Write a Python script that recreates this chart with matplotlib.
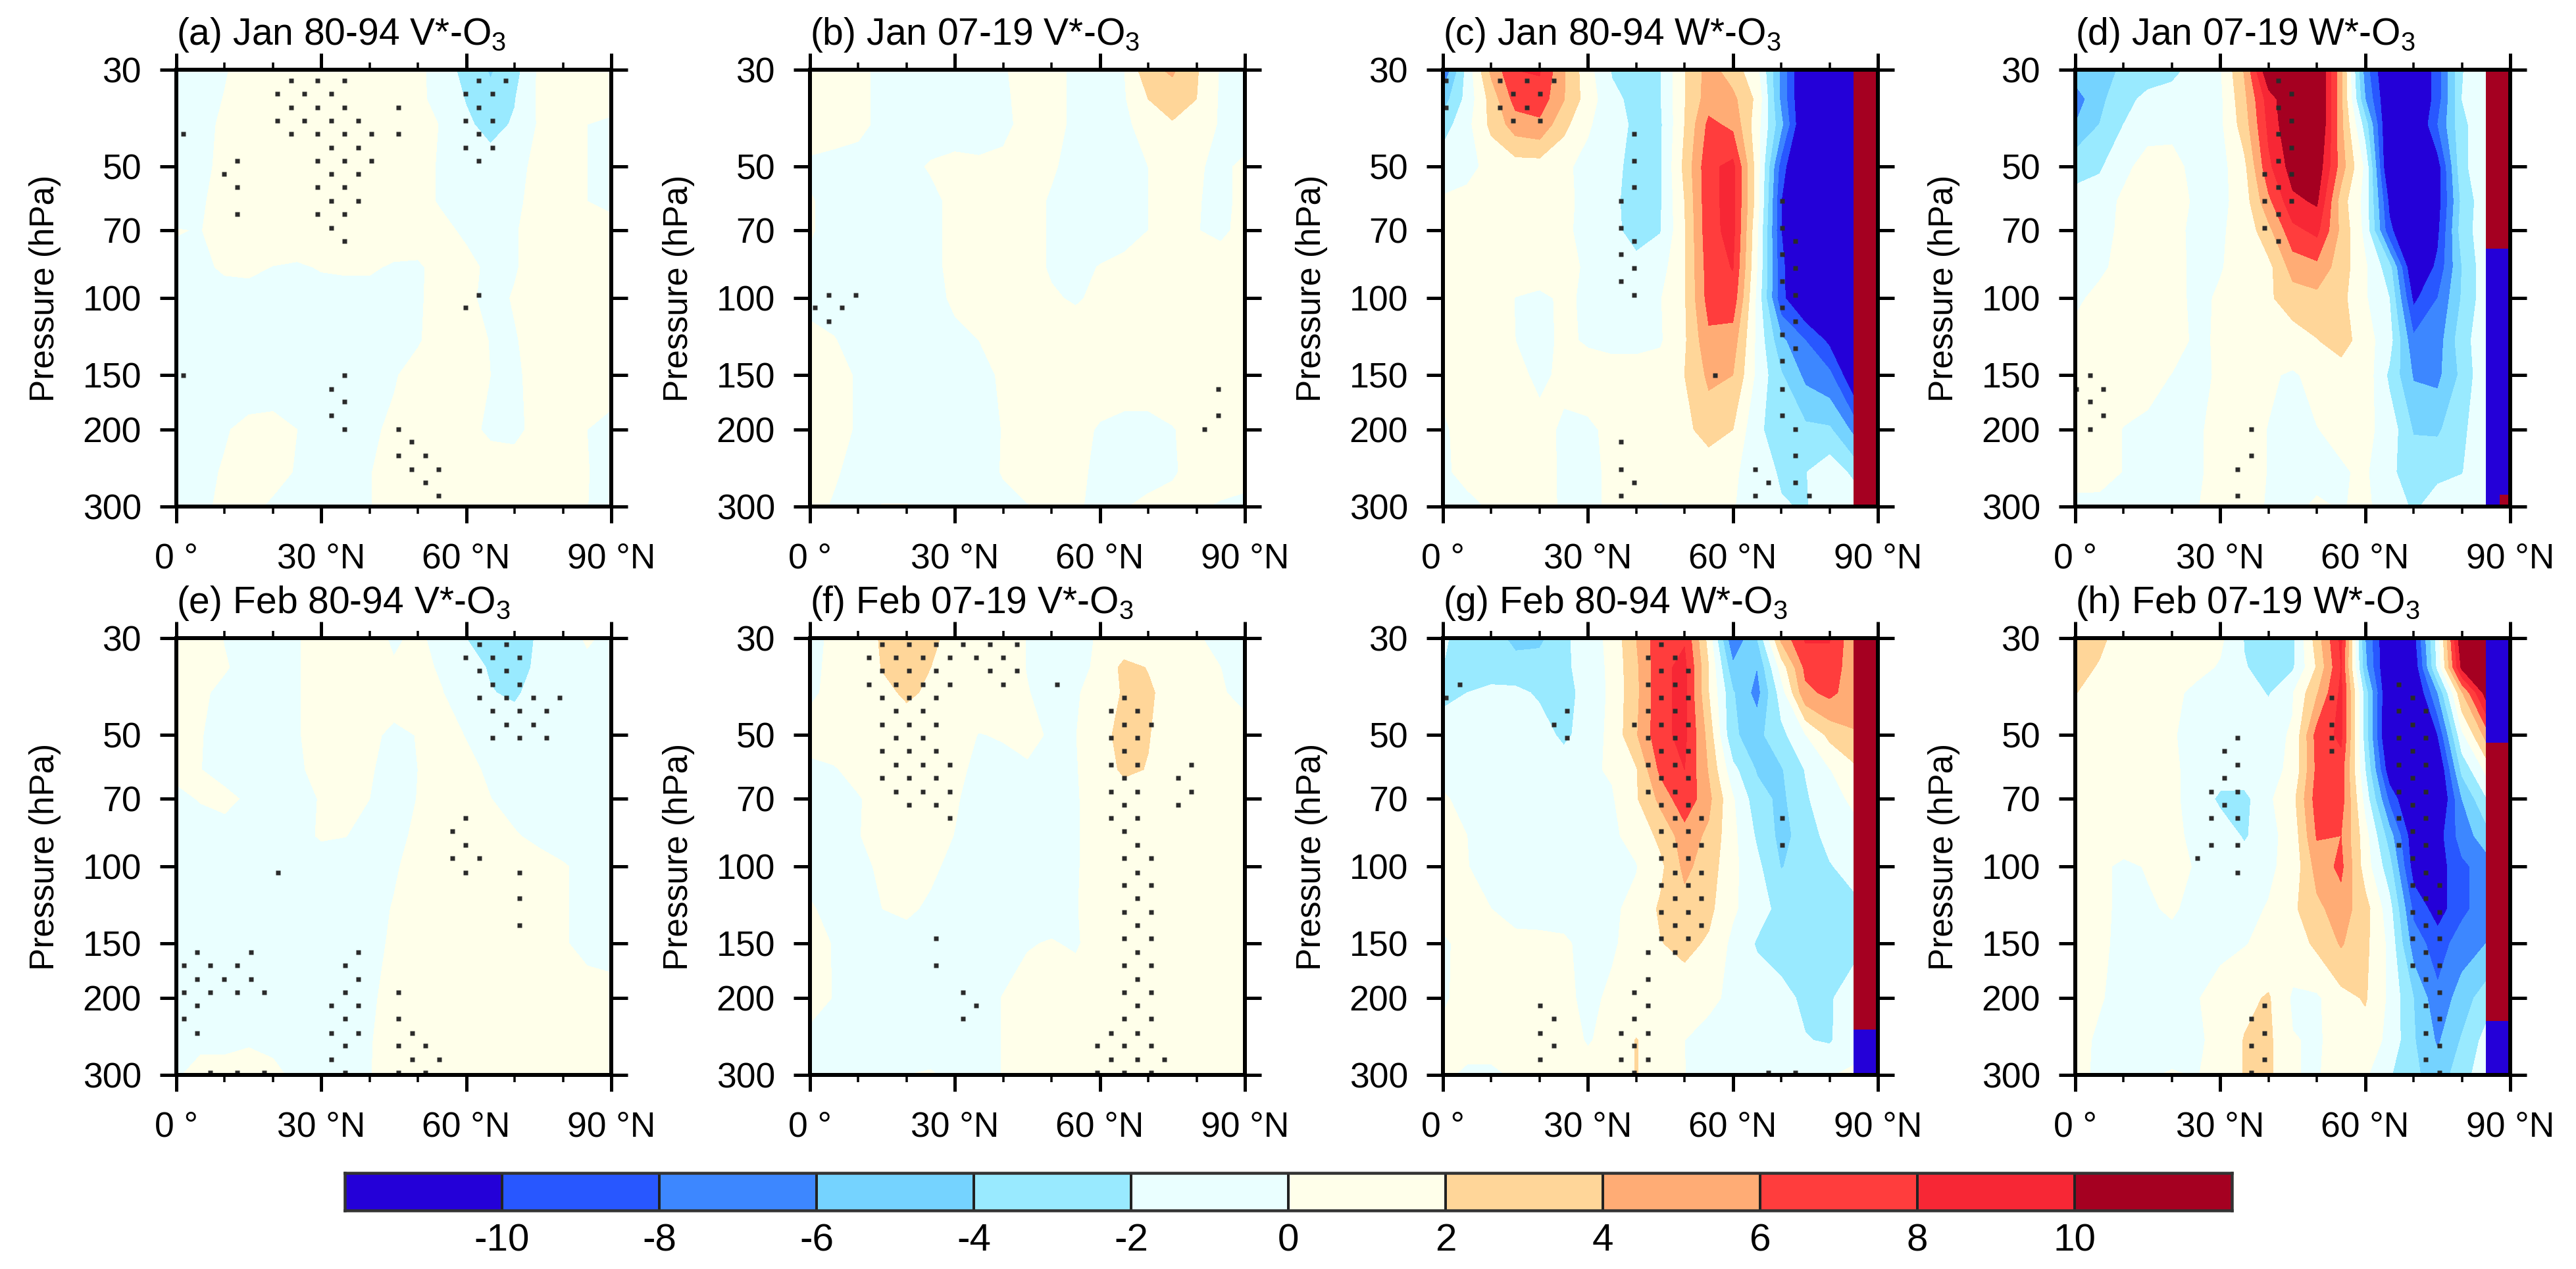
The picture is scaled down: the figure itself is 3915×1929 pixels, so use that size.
import numpy as np
import matplotlib
matplotlib.use("Agg")
import matplotlib.pyplot as plt
from matplotlib.colors import ListedColormap, BoundaryNorm

plt.rcParams['font.family'] = ['Liberation Sans', 'DejaVu Sans']
plt.rcParams['mathtext.fontset'] = 'custom'
plt.rcParams['mathtext.rm'] = 'Liberation Sans'
plt.rcParams['mathtext.default'] = 'regular'

LEVELS = [30, 35, 40, 50, 60, 70, 85, 100, 125, 150, 200, 250, 300]
LAT_V = list(range(0, 95, 5))
LAT_W = list(range(0, 90, 5))
CLEV = [-12, -10, -8, -6, -4, -2, 0, 2, 4, 6, 8, 10, 12]
COLORS = ['#2400D8', '#2857FF', '#3D87FF', '#75D3FF', '#99EAFF', '#EAFFFF',
          '#FFFFEA', '#FFD699', '#FFAC75', '#FF3D3D', '#F72735', '#A50021']
YTICKS = [30, 50, 70, 100, 150, 200, 300]
XTICKS = [0, 30, 60, 90]
XTICKLABELS = ['0 °', '30 °N', '60 °N', '90 °N']
TITLES = ['(a) Jan 80-94 V*-O$_3$', '(b) Jan 07-19 V*-O$_3$', '(c) Jan 80-94 W*-O$_3$', '(d) Jan 07-19 W*-O$_3$',
          '(e) Feb 80-94 V*-O$_3$', '(f) Feb 07-19 V*-O$_3$', '(g) Feb 80-94 W*-O$_3$', '(h) Feb 07-19 W*-O$_3$']

# ---- field values (rows follow LEVELS, columns follow LAT_V / LAT_W) ----
A = [
 [-1,-1,-.2,1,1,1,1,1,1,1,.5,-1,-2.7,-4.2,-2.8,.3,1,1,1],
 [-1,-1,.1,1,1,1,1,1,1,1,.5,-.9,-2.1,-3.5,-2.1,.3,1,1,1],
 [-1,-.7,.4,1,1,1,1,1,1,1,.5,-.1,-1.7,-2.6,-1.8,.2,.8,0,-.5],
 [-1,-.5,.5,1,1.2,1.2,1.2,1.2,1.2,1.2,.5,-.2,-1,-1.2,-.6,.5,.8,0,-.5],
 [-.8,-.2,.6,1,1.3,1.3,1.3,1.3,1.3,1.2,.5,-.2,-.8,-.8,-.3,.5,.8,0,-.4],
 [.05,-.05,.6,1,1,1,1,1,1,1,.7,.4,-.3,-.6,-.1,.5,.8,.8,.6],
 [-.3,-.3,.2,.3,-.05,-.2,.1,.2,.2,-.2,-.2,.5,.5,-.4,-.1,.5,.8,.8,.6],
 [-.1,-.5,-.6,-.6,-.6,-.6,-.6,-.6,-.6,-.5,-.1,.3,.3,-.4,.1,.6,.8,.8,.6],
 [-.5,-.7,-.7,-.7,-.7,-.7,-.7,-.7,-.7,-.5,-.1,.5,.5,-.05,-.1,.5,.8,.8,.6],
 [-.5,-.7,-.7,-.7,-.7,-.7,-.7,-.7,-.5,-.1,.4,.6,.5,0,-.3,.6,.8,.8,.6],
 [-.6,-.4,-.1,.3,.4,0,-.4,-.6,-.2,.2,.5,.6,.3,-.2,-.3,.4,.6,0,-.4],
 [-.6,-.3,.1,.4,.4,-.1,-.4,-.4,-.05,.4,.6,.6,.6,.6,.6,.6,.6,.05,-.5],
 [-.6,-.3,.3,.3,-.2,-.5,-.5,-.3,-.05,.4,.6,.6,.6,.6,.6,.6,.6,.02,-.5],
]
B = [
 [.5,.5,.3,-.3,-.5,-.5,-.5,-.4,-.1,.4,.3,-.2,-.5,-.05,3.5,4.3,2.2,-.2,-.5],
 [.5,.5,.3,-.3,-.5,-.5,-.5,-.5,-.2,.4,.3,-.2,-.5,-.2,2,3,2,-.3,-.5],
 [.5,.5,.3,-.3,-.5,-.5,-.5,-.5,-.3,.4,.3,-.2,-.5,-.3,.6,1.8,1,-.2,-.5],
 [-.2,-.4,-.5,-.5,-.3,.1,.3,.2,.3,.4,.1,-.3,-.5,-.5,0,.4,.1,-.2,.2],
 [.1,-.4,-.5,-.5,-.5,-.3,.3,.4,.4,.3,-.1,-.5,-.5,-.4,0,.4,.05,-.2,.2],
 [.1,-.4,-.5,-.5,-.5,-.3,.3,.4,.4,.3,-.1,-.5,-.5,-.4,0,.4,.03,-.2,.3],
 [-.2,-.4,-.5,-.5,-.5,-.3,.3,.4,.4,.3,-.1,-.3,.05,.3,.4,.4,.5,.5,.5],
 [-.3,-.4,-.5,-.5,-.5,-.4,.2,.4,.4,.4,.1,-.1,.2,.4,.5,.5,.5,.5,.5],
 [.3,.05,-.4,-.5,-.5,-.5,-.3,0,.3,.5,.5,.5,.5,.5,.5,.5,.5,.5,.5],
 [.4,.3,-.1,-.4,-.5,-.5,-.4,-.2,.1,.4,.5,.5,.5,.5,.5,.5,.5,.5,.5],
 [.4,.3,-.1,-.4,-.5,-.5,-.4,-.3,.03,.4,.4,.3,-.1,-.3,-.3,-.05,.3,.4,.4],
 [.4,.1,-.3,-.5,-.5,-.5,-.4,-.3,.05,.4,.4,.2,-.2,-.3,-.3,-.1,.3,.4,.4],
 [.3,-.1,-.4,.05,.05,-.3,-.5,-.4,-.2,-.05,.2,.1,-.2,-.05,.2,.3,.1,-.1,-.3],
]
C = [
 [-8,-1.3,4.5,8,8.2,4.2,.7,-2.2,-2.6,-2.1,1.9,4.8,3,.5,-6.5,-13,-13,-13],
 [-5,-1.3,2.8,6.8,7.2,4.1,1,-1.5,-2.6,-2.1,1.9,5,4.5,1.5,-6.5,-13,-13,-13],
 [-3,-.6,2.5,5,5.5,2.6,.2,-1,-2.5,-2.3,2,6.5,5.5,.8,-5.5,-13,-13,-13],
 [-.8,-.5,.5,1,1,.3,-.5,-1.6,-2.5,-2.2,2.5,7.5,8.6,1,-9,-14,-14,-14],
 [.2,.5,1,1,1,.4,-.5,-1.6,-2.8,-2.2,2,7.5,8.6,1,-10,-14,-14,-14],
 [.2,.6,1,1,1,.3,-.5,-1.6,-2.6,-2.1,1.8,7.4,8.6,.3,-10,-14,-14,-14],
 [.2,.6,1,1,1,.6,-.3,-.6,-1.5,-.8,1.8,7,8.1,0,-9.5,-13,-13,-13],
 [.3,.7,.8,-.05,-.4,.3,-.3,-.6,-.6,-.1,1.8,6.8,7.2,-.5,-9.5,-12.5,-13,-13],
 [.4,.8,.8,0,-.5,.3,-.2,-.5,-.5,-.2,1.7,5.5,5,-.5,-5.5,-8,-10.5,-13],
 [.3,.8,.8,.5,-.4,.4,.8,.8,.8,.8,2,4.4,4,-.5,-3.8,-6.5,-7.5,-12],
 [-.2,.5,.8,.8,.6,-.3,-.3,.4,.6,.8,1.5,2.8,2,-1.7,-2.8,-3.5,-3.7,-6.5],
 [-.3,.5,.8,.8,.7,-.3,-.4,.3,.6,.7,.7,.7,.3,-.9,-2.3,-2.1,-.7,-2.5],
 [-.5,-.5,.2,.6,.5,-.2,-.4,.3,.4,-.1,.4,.6,.2,-1.8,-1.8,-2.2,-.8,-.5],
]
D = [
 [-5,-5,-3.6,-2.8,-2.4,-1.5,-.2,4.2,12,12,13,4.5,-7,-13,-13,-9,-2.1,-.8],
 [-7,-4.6,-2.5,-1.6,-1.4,-1.4,-.4,3.5,9,12,13,4.5,-6,-12.5,-13,-9,-2,-.6],
 [-6,-4,-2,-.6,-.5,-1,-.4,3,8.5,12,13,4.5,-3,-13,-13,-8,-2.5,-.6],
 [-2.5,-2.3,-.4,.6,.6,-.6,-.7,1.5,7.5,11,11.5,5,-.5,-13,-13,-11,-2.5,-.6],
 [-1.5,-.8,.3,.8,.8,-.3,-.6,1,5.5,9.5,10.3,3,-.8,-10.5,-13,-11,-3.5,-.6],
 [-.8,-.5,.3,.8,.6,-.5,-.2,.6,3.4,7.4,8.5,3.5,-.6,-9.5,-13,-10.5,-3,-.8],
 [-.8,-.3,.5,.8,.6,-.4,-.1,.6,1.4,4.8,5.4,3,.3,-3.2,-12.5,-9.5,-4,-.7],
 [-.3,.4,.7,.7,.6,-.4,.2,.6,1.7,3,3.4,2.6,.2,-2,-10.5,-8,-3.8,-.8],
 [.5,.7,.7,.7,.7,-.3,.2,.6,.8,1,1.9,3,.8,-1.2,-7.5,-7,-2.8,-.7],
 [.5,.6,.6,.6,-.05,-.4,.2,.5,.2,-.2,.5,.8,1.2,-2.4,-6.2,-6.5,-3.5,-.3],
 [.4,.5,-.05,-.4,-.5,-.2,.4,.5,-.05,-.4,-.05,.4,.5,-.8,-4.2,-4.3,-2.5,-.4],
 [.4,.5,-.05,-.4,-.5,-.2,.4,.5,-.05,-.4,-.4,-.2,.3,-1.8,-2.5,-2.4,-2.1,-.3],
 [-.3,-.4,-.5,-.5,-.5,-.05,.3,.4,-.1,-.3,.2,-.1,.3,-.8,-2.3,-1.2,-.5,-.4],
]
E = [
 [.6,.6,-.05,-.4,-.5,-.1,.5,.6,.4,-.15,.2,-.4,-2,-2.6,-2.8,-1.8,-.6,.15,-.3],
 [.6,.6,.1,-.4,-.5,-.1,.5,.6,.5,.1,.4,-.2,-1.2,-2.2,-2.8,-1.6,-.6,-.3,-.3],
 [.6,.2,-.3,-.5,-.5,-.1,.5,.6,.6,.6,.6,.05,-.9,-1.9,-2.3,-1.2,-.6,-.4,-.4],
 [.4,.05,-.4,-.5,-.5,-.1,.5,.6,.3,-.3,.05,.4,-.05,-.7,-.9,-.9,-.7,-.5,-.5],
 [.2,.02,-.4,-.5,-.5,-.2,.4,.5,.1,-.4,0,.5,.3,-.2,-.6,-.7,-.7,-.6,-.6],
 [-.2,.05,.3,-.2,-.5,-.5,.1,.4,0,-.4,.03,.5,.5,.02,-.4,-.6,-.6,-.6,-.6],
 [-.3,-.4,-.5,-.5,-.5,-.3,.1,.02,-.3,-.3,.2,.5,.6,.5,.1,-.3,-.5,-.6,-.6],
 [-.4,-.5,-.5,-.5,-.5,-.5,-.5,-.5,-.5,-.1,.3,.5,.6,.6,.6,.5,.1,-.3,-.5],
 [-.4,-.5,-.5,-.5,-.5,-.5,-.5,-.5,-.3,.05,.4,.6,.6,.6,.6,.6,.1,-.3,-.5],
 [-.4,-.5,-.5,-.5,-.5,-.5,-.5,-.5,-.3,.15,.4,.6,.6,.6,.6,.6,.1,-.3,-.5],
 [-.4,-.5,-.5,-.5,-.5,-.5,-.5,-.3,-.1,.2,.5,.5,.5,.5,.5,.5,.5,.5,.5],
 [-.4,-.2,-.2,-.1,-.2,-.4,-.5,-.3,-.05,.3,.5,.5,.5,.5,.5,.5,.5,.5,.5],
 [-.1,.3,.3,.4,.2,-.2,-.5,-.4,-.03,.3,.5,.5,.5,.5,.5,.5,.5,.5,.5],
]
F = [
 [-.3,.2,.6,2.3,3,2.5,1.2,.8,.5,-.05,-.4,-.3,.1,.4,.5,.4,.1,-.3,-.4],
 [-.3,.3,.7,2.1,2.8,2,1,.8,.5,-.05,-.4,-.3,.2,2.6,1.9,.6,.3,0,-.3],
 [-.2,.3,.7,1.5,2.3,1.7,1,.8,.5,.05,-.4,-.1,.4,2.3,2.3,1.2,.5,.1,-.3],
 [.5,.6,.7,.8,.9,.8,.5,-.05,.1,.4,-.2,-.05,1.5,2.5,2.1,1,.8,.6,.4],
 [-.3,-.1,.4,.7,.9,.8,.2,-.2,-.4,-.2,-.1,-.1,.9,2.4,1.9,1,.8,.6,.4],
 [-.3,-.3,-.1,.5,.8,.7,.1,-.4,-.4,-.4,-.3,-.1,.5,.8,.8,.8,.7,.6,.4],
 [-.3,-.4,-.05,.4,.7,.4,-.03,-.4,-.4,-.4,-.3,-.1,.5,.8,.8,.8,.7,.6,.4],
 [-.3,-.4,-.3,.2,.5,.2,-.3,-.4,-.4,-.4,-.3,-.1,.5,.7,.7,.7,.7,.6,.4],
 [.1,-.3,-.4,0,.2,-.2,-.4,-.4,-.4,-.4,-.3,-.05,.4,.6,.6,.6,.6,.6,.4],
 [.3,-.05,-.4,-.5,-.5,-.5,-.5,-.5,-.3,-.05,.05,-.1,.4,.6,.6,.6,.6,.6,.4],
 [.4,-.05,-.4,-.5,-.5,-.5,-.5,-.3,.03,.3,.4,.5,.5,.5,.5,.5,.5,.5,.5],
 [-.3,-.4,-.4,-.5,-.5,-.5,-.5,-.3,.03,.3,.4,.5,.5,.5,.5,.5,.5,.5,.5],
 [-.3,-.4,-.4,-.4,0,.1,-.3,-.3,.03,.3,.4,.5,.5,.5,.5,.5,.5,.5,.5],
]
G = [
 [-1.8,-2.6,-3.2,-4.5,-4.5,-2.4,-1,.6,4,7.4,7.8,1.2,-8,-4,4.5,8.3,8.1,4.5],
 [-2,-2.6,-3,-3.3,-3,-2.4,-1.2,.5,3.6,7.5,8.5,2,-5.5,-6,.8,6.5,7.5,4.5],
 [-2.5,-2,-1.5,-1.5,-2.3,-2.5,-1.5,.5,3.5,7.5,8.5,2,-3.8,-6.8,-1,5.5,6.5,5],
 [-1,-.8,-.7,-.8,-1,-2.5,-1,.5,3.8,7.5,8.5,3.2,-3.8,-4.6,-2.6,-.1,2.5,3.8],
 [-.5,-.7,-.7,-.7,-.7,-.7,-.3,.2,1.8,6.5,8,3.8,-1.4,-4.2,-4.2,-1.9,-.1,1.5],
 [.2,-.5,-.6,-.6,-.6,-.6,-.6,-.2,1.8,4.5,7.5,4.5,.2,-3.2,-4.5,-2.3,-.6,.3],
 [.3,0,-.6,-.6,-.6,-.6,-.6,-.3,.6,2.5,5,3.6,.5,-2.3,-4.6,-3.2,-1.2,-.6],
 [.3,.05,-.6,-.6,-.6,-.6,-.6,-.5,-.1,1.5,4.5,3,.5,-1.5,-4.1,-3.2,-2.2,-1],
 [.4,.4,0,-.5,-.6,-.5,-.5,-.3,.5,2.3,3.2,2.5,.3,-1.2,-2.6,-2.8,-2.8,-2.8],
 [-.2,.4,.5,.4,.4,.2,-.4,-.2,.6,1.9,2.6,1.7,-.5,-2.2,-2.8,-2.8,-2.8,-2.8],
 [-.2,.5,.6,.6,.6,.4,-.4,.3,.5,.7,.7,.3,-.3,-.8,-1.4,-2.4,-2.3,-.6],
 [.4,.6,.6,.6,.6,.5,-.1,.4,2.1,.7,0,-.5,-.6,-.7,-.9,-1.9,-2.2,-.7],
 [.3,-.3,-.3,.2,.5,.5,.5,.6,2.1,.5,.02,-.5,-.5,-.5,-.5,-.5,-.1,.3],
]
H = [
 [3,2.5,1,.8,.8,.8,.4,-2.1,-3.5,-2.5,3,8.5,-6,-13,-11,-1,12,12],
 [2.8,1.8,.8,.8,.8,.6,-.2,-1.9,-2.6,-2.3,2.2,8,-5.5,-13,-12,-1.5,10.5,12],
 [2.1,.8,.8,.8,.5,-.5,-.5,-.8,-2.2,-.1,3.8,8.5,-3,-13,-13,-6,3.8,11],
 [.8,.8,.8,.8,.1,-.4,-.5,-.5,-.3,.1,6.8,8.5,-3,-13.5,-13.5,-10,-.5,4.7],
 [.8,.8,.8,.8,.2,-.4,-.8,-.8,-.3,.2,6.5,7,-2,-11.5,-13.5,-12.5,-3.5,.5],
 [.8,.8,.8,.8,.2,-.4,-2.5,-2.6,-.3,1.3,7,7,-.8,-8.5,-13,-13,-6,-2.2],
 [.8,.8,.8,.8,.4,-.4,-.5,-2.3,-.5,.7,6.2,6,.8,-5,-11.5,-11,-7,-5],
 [.8,.3,-.3,.1,.8,-.2,-.5,-.7,-.3,.6,4.8,6.5,1,-3.2,-11,-11,-8.5,-7],
 [.7,.3,-.3,-.2,.2,-.5,-.5,-.4,.1,1.6,3.5,5,2.8,-1.2,-8.5,-11,-8.5,-7],
 [.6,.3,-.4,-.5,-.5,-.5,-.3,-.1,.5,1,2.4,4.2,2.5,-.5,-7,-9,-7,-6],
 [.5,.1,-.4,-.5,-.5,-.1,.5,1.5,2.2,-.3,-.3,1.3,2.2,-.4,-4,-7.5,-5,-3],
 [.4,-.2,-.4,-.5,-.5,-.3,.5,2.1,2.4,.1,-.2,.6,1.1,-.5,-3.8,-6.3,-3.8,-1.3],
 [.3,-.2,-.3,-.1,.1,-.05,.3,2.1,2.4,.05,-.1,.5,.3,-1.8,-3.6,-5,-3,-.5],
]
FIELDS = [A, B, C, D, E, F, G, H]

# polar strip of the W* panels: pressure edges and values per band, hPa
STRIP_C_P, STRIP_C_V = [30, 300], [12]
STRIP_D_P, STRIP_D_V = [30, 77, 300], [12, -12]
STRIP_G_P, STRIP_G_V = [30, 236, 300], [12, -12]
STRIP_H_P, STRIP_H_V = [30, 52, 226, 300], [-12, 12, -12]
STRIPS = {2: (STRIP_C_P, STRIP_C_V), 3: (STRIP_D_P, STRIP_D_V),
          6: (STRIP_G_P, STRIP_G_V), 7: (STRIP_H_P, STRIP_H_V)}
STRIP_D_CORNER_LAT, STRIP_D_CORNER_P, STRIP_D_CORNER_V = [87.8, 89.8], [282, 300], [12]

# stippling: rows of the significance grid
STIP_P_JAN = [31.7,34.0,36.5,39.2,42.0,45.1,48.4,51.9,55.7,59.8,64.2,68.9,73.9,79.3,85.1,91.4,98.1,105,113,121,130,139,150,161,172,185,199,213,229,246,264,283]
STIP_P_FEB = [30.9,33.2,35.6,38.2,41.0,44.0,47.2,50.6,54.3,58.3,62.6,67.2,72.1,77.3,83.0,89.1,95.6,103,110,118,127,136,146,157,168,181,194,208,223,240,257,276,296]
STIP_DLAT = 2.78
STIP_LAT0 = [1.4, 1.0, 0.6, 0.2, 1.45, 1.0, 0.6, 0.2]

ST_A = {0:[8,10,12,22,24],1:[7,9,11,21,23],2:[8,10,12,16,22],3:[7,9,11,13,21,23],4:[0,8,10,12,14,16,22],5:[11,13,21,23],6:[4,10,12,14,22],7:[3,11,13],8:[4,10,12],9:[11,13],10:[4,10,12],11:[11],12:[12],16:[22],17:[21],22:[0,12],23:[11],24:[12],25:[11],26:[12,16],27:[17],28:[16,18],29:[17,19],30:[18],31:[19]}
ST_B = {16:[1,3],17:[0,2],18:[1],23:[30],25:[30],26:[29]}
ST_C = {0:[0,4,6,8],1:[5,7],2:[0,4,6],3:[5,7],4:[14],6:[14],8:[14],9:[13,25],11:[13,25],12:[14,26],13:[13,25],14:[14,26],15:[13,25],16:[14,26],17:[25],18:[26],19:[25],20:[26],21:[25],22:[20],23:[25],25:[25],26:[26],27:[13],28:[26],29:[13,23],30:[14,24,26],31:[13,23,27]}
ST_D = {0:[15],1:[16],2:[15],3:[16],4:[15],5:[16],6:[15],7:[14,16],8:[15],9:[14,16],10:[15],11:[14],12:[15],22:[1],23:[0,2],24:[1],25:[2],26:[1,13],28:[13],29:[12],31:[12]}
ST_E = {0:[22,24],1:[21,23,25],2:[22,24],3:[23,25],4:[22,24,26,28],5:[23,25,27],6:[24,26],7:[23,25,27],13:[21],14:[20],15:[21],16:[20,22],17:[7,21,25],19:[25],21:[25],23:[1,5,13],24:[0,2,4,12],25:[1,3,5,13],26:[0,2,4,6,12,16],27:[1,11,13],28:[0,12,16],29:[1,11,13,17],30:[12,16,18],31:[11,17,19],32:[2,4,6,12,16,18]}
ST_F = {0:[5,7,9,11,13,15],1:[4,6,8,10,12,14],2:[5,7,9,13,15],3:[4,6,8,10,14,18],4:[5,7,9,23],5:[6,8,22,24],6:[5,7,9,23,25],7:[6,8,22,24],8:[5,7,9,23],9:[6,8,10,22,24,28],10:[5,7,9,23,27],11:[6,8,10,22,24,28],12:[7,9,23,27],13:[10,22,24],14:[23],15:[24],16:[23,25],17:[24],18:[23,25],19:[24],20:[23,25],21:[24],22:[9,23,25],23:[24],24:[9,23,25],25:[24],26:[11,23,25],27:[12,24],28:[11,23,25],29:[22,24],30:[21,23,25],31:[22,24,26],32:[21,23,25]}
ST_G = {0:[16],1:[15,17],2:[16,18],3:[1,15,17],4:[0,16,18],5:[9,15,17],6:[8,14,16,18],7:[9,15,17],8:[16,18],9:[15,17],10:[16,18],11:[15,17],12:[16,18],13:[17,19,25],14:[16,18],15:[17,19,25],16:[16,18],17:[17,19],18:[16,18],19:[17,19],20:[16,18],21:[17,19],22:[16,18],23:[15,17],25:[15],26:[14],27:[7,15],28:[8,14],29:[7,13,15],30:[8,14],31:[7,13,15],32:[14,24,26]}
ST_H = {3:[24],4:[19,25],5:[24,26],6:[19,25],7:[12,19,24,26],8:[11,19,25],9:[12,24,26],10:[11,25],11:[10,12,24,26],12:[11,25],13:[10,12,24,26],14:[25],15:[10,12,24,26],16:[9,25],17:[12,26],18:[25,27],19:[26],20:[25,27],21:[26],22:[25,27],23:[26],24:[25,27],25:[26],26:[27],27:[14,26],28:[13,27],29:[14,26],30:[13,27],31:[14,26],32:[13,27]}
STIPS = [ST_A, ST_B, ST_C, ST_D, ST_E, ST_F, ST_G, ST_H]

# ---- layout ----
W, H_PX = 3915, 1929
fig = plt.figure(figsize=(W / 100, H_PX / 100), dpi=100, facecolor='white')
LEFTS = [268, 1231, 2193, 3154]
TOPS = [106, 970]
AW, AH = 661, 664
cmap = ListedColormap(COLORS)
norm = BoundaryNorm(CLEV, cmap.N)
PT = 72 / 100  # points per pixel

for n in range(8):
    row, col = n // 4, n % 4
    l, t = LEFTS[col], TOPS[row]
    ax = fig.add_axes([l / W, 1 - (t + AH) / H_PX, AW / W, AH / H_PX])
    z = np.array(FIELDS[n], dtype=float)
    lats = LAT_V if z.shape[1] == len(LAT_V) else LAT_W
    ax.contourf(lats, LEVELS, z, levels=CLEV, colors=COLORS, extend='both')
    if n in STRIPS:
        sp, sv = STRIPS[n]
        ax.pcolormesh([85, 90], sp, np.array(sv, dtype=float).reshape(-1, 1), cmap=cmap, norm=norm)
    if n == 3:
        ax.pcolormesh(STRIP_D_CORNER_LAT, STRIP_D_CORNER_P,
                      np.array(STRIP_D_CORNER_V, dtype=float).reshape(1, 1), cmap=cmap, norm=norm)
    levs = STIP_P_JAN if row == 0 else STIP_P_FEB
    xs, ys = [], []
    for k, idx in STIPS[n].items():
        for i in idx:
            xs.append(STIP_LAT0[n] + STIP_DLAT * i)
            ys.append(levs[k])
    ax.plot(xs, ys, ls='none', marker='s', ms=7 * PT, mfc='#2a2a2a', mec='none', zorder=5)
    ax.set_yscale('log')
    ax.set_xlim(0, 90)
    ax.set_ylim(300, 30)
    ax.set_yticks(YTICKS)
    ax.set_yticklabels([str(v) for v in YTICKS])
    ax.yaxis.set_minor_locator(matplotlib.ticker.NullLocator())
    ax.set_xticks(XTICKS)
    ax.set_xticklabels(XTICKLABELS)
    ax.set_xticks(range(0, 91, 10), minor=True)
    for s in ax.spines.values():
        s.set_linewidth(6 * PT)
        s.set_zorder(6)
    ax.tick_params(axis='both', which='major', direction='out', length=25 * PT, width=5 * PT,
                   labelsize=38.5, top=True, right=True, zorder=6)
    ax.tick_params(axis='x', which='minor', direction='out', length=11 * PT, width=3.5 * PT,
                   top=True, bottom=True)
    ax.tick_params(axis='x', which='major', pad=30 * PT)
    ax.tick_params(axis='y', which='major', pad=28 * PT)
    ax.set_ylabel('Pressure (hPa)', fontsize=37)
    ax.yaxis.set_label_coords(-175 / AW, 0.5)
    ax.text(0, 1 + 38 / AH, TITLES[n], transform=ax.transAxes, fontsize=41, ha='left', va='baseline')

# ---- colour bar ----
BL, BR, BT, BB = 524, 3392, 1783, 1840
cax = fig.add_axes([BL / W, 1 - BB / H_PX, (BR - BL) / W, (BB - BT) / H_PX])
cax.pcolormesh(CLEV, [0, 1], np.array(CLEV[:-1], dtype=float).reshape(1, -1) + 1, cmap=cmap, norm=norm)
cax.set_xlim(CLEV[0], CLEV[-1])
cax.set_ylim(0, 1)
cax.set_yticks([])
cax.set_xticks(CLEV[1:-1])
cax.set_xticklabels(['-10', '-8', '-6', '-4', '-2', '0', '2', '4', '6', '8', '10'])
cax.tick_params(axis='x', length=0, labelsize=42, pad=14)
for v in CLEV[1:-1]:
    cax.axvline(v, color='#222222', lw=4 * PT)
for s in cax.spines.values():
    s.set_linewidth(4.5 * PT)
    s.set_color('#333333')

fig.savefig('out.png', dpi=100, facecolor='white')
